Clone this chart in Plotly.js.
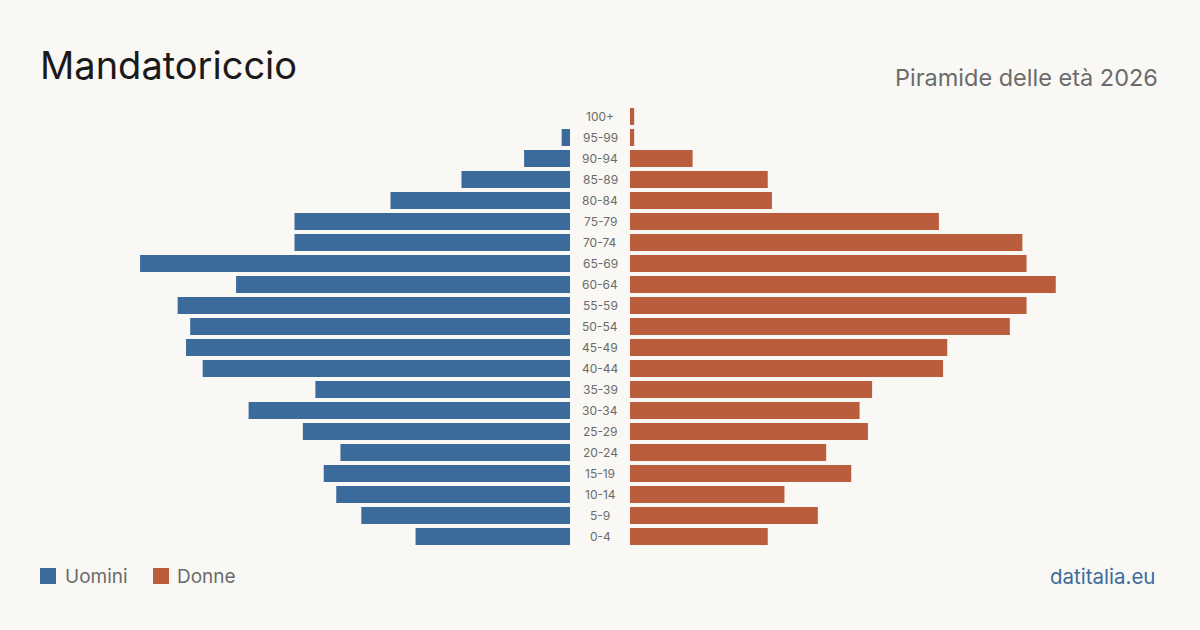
<!DOCTYPE html>
<html>
<head>
<meta charset="utf-8">
<script src="https://cdn.plot.ly/plotly-3.0.1.min.js"></script>
<style>
  html, body { margin: 0; padding: 0; background: #f9f8f4; }
  #chart { width: 1200px; height: 630px; }
</style>
</head>
<body>
<div id="chart"></div>
<script>
// Age classes, bottom to top
const ageGroups = ['0-4','5-9','10-14','15-19','20-24','25-29','30-34','35-39','40-44','45-49',
                   '50-54','55-59','60-64','65-69','70-74','75-79','80-84','85-89','90-94','95-99','100+'];
// Residents per class
const men   = [37, 50, 56, 59, 55, 64, 77, 61, 88, 92, 91, 94, 80, 103, 66, 66, 43, 26, 11, 2, 0];
const women = [33, 45, 37, 53, 47, 57, 55, 58, 75, 76, 91, 95, 102, 95, 94, 74, 34, 33, 15, 1, 1];

const seriesNames = ['Uomini', 'Donne'];
const titleText = 'Mandatoriccio';
const subtitleText = 'Piramide delle età 2026';
const sourceText = 'datitalia.eu';

const BLUE = '#3b6b9b';
const RED = '#b95d3c';
const BG = '#f9f8f4';
const FONT = 'Inter, "Noto Sans", sans-serif';

// Plot area geometry (pixels)
const W = 1200, H = 630;
const M = { l: 100, r: 100, t: 106, b: 83 };
const plotW = W - M.l - M.r, plotH = H - M.t - M.b;
const px = x => (x - M.l) / plotW;          // page x -> paper x
const py = y => 1 - (y - M.t) / plotH;      // page y -> paper y

const halfRange = 112.6;

const traces = [
  {
    type: 'bar', orientation: 'h', name: seriesNames[0],
    y: ageGroups, x: men, xaxis: 'x', yaxis: 'y',
    marker: { color: BLUE }, hoverinfo: 'skip'
  },
  {
    type: 'bar', orientation: 'h', name: seriesNames[1],
    y: ageGroups, x: women, xaxis: 'x2', yaxis: 'y',
    marker: { color: RED }, hoverinfo: 'skip'
  }
];

// Age labels in the central gap
const ageLabels = ageGroups.map(g => ({
  text: g, xref: 'paper', yref: 'y', x: 0.5, y: g,
  xanchor: 'center', yanchor: 'middle', showarrow: false,
  font: { family: FONT, size: 12, color: '#6b6b6b' }
}));

const annotations = ageLabels.concat([
  { text: subtitleText, xref: 'paper', yref: 'paper', x: px(1160), y: py(77),
    xanchor: 'right', yanchor: 'middle', showarrow: false,
    font: { family: FONT, size: 23.5, color: '#6b6b6b' } },
  { text: seriesNames[0], xref: 'paper', yref: 'paper', x: px(63), y: py(576),
    xanchor: 'left', yanchor: 'middle', showarrow: false,
    font: { family: FONT, size: 19, color: '#6b6b6b' } },
  { text: seriesNames[1], xref: 'paper', yref: 'paper', x: px(175), y: py(576),
    xanchor: 'left', yanchor: 'middle', showarrow: false,
    font: { family: FONT, size: 19, color: '#6b6b6b' } },
  { text: sourceText, xref: 'paper', yref: 'paper', x: px(1157), y: py(576),
    xanchor: 'right', yanchor: 'middle', showarrow: false,
    font: { family: FONT, size: 20.5, color: BLUE } }
]);

// Legend swatches
const shapes = [
  { type: 'rect', xref: 'paper', yref: 'paper', x0: px(40), x1: px(56), y0: py(584), y1: py(568),
    fillcolor: BLUE, line: { width: 0 } },
  { type: 'rect', xref: 'paper', yref: 'paper', x0: px(153), x1: px(169), y0: py(584), y1: py(568),
    fillcolor: RED, line: { width: 0 } }
];

const layout = {
  width: W, height: H,
  paper_bgcolor: BG, plot_bgcolor: BG,
  margin: M,
  showlegend: false,
  bargap: 4 / 21,
  title: {
    text: titleText, xref: 'container', yref: 'container',
    x: 40 / W, xanchor: 'left', y: 1 - 66 / H, yanchor: 'middle',
    font: { family: FONT, size: 38, color: '#1a1a1a' }
  },
  xaxis: {
    domain: [0, px(570)], range: [halfRange, 0],
    showgrid: false, zeroline: false, showticklabels: false, showline: false, ticks: ''
  },
  xaxis2: {
    domain: [px(630), 1], range: [0, halfRange], anchor: 'y',
    showgrid: false, zeroline: false, showticklabels: false, showline: false, ticks: ''
  },
  yaxis: {
    type: 'category', categoryorder: 'array', categoryarray: ageGroups,
    range: [-0.5, ageGroups.length - 0.5],
    showgrid: false, zeroline: false, showticklabels: false, showline: false, ticks: ''
  },
  annotations: annotations,
  shapes: shapes
};

Plotly.newPlot('chart', traces, layout, { staticPlot: true, displayModeBar: false });
</script>
</body>
</html>
